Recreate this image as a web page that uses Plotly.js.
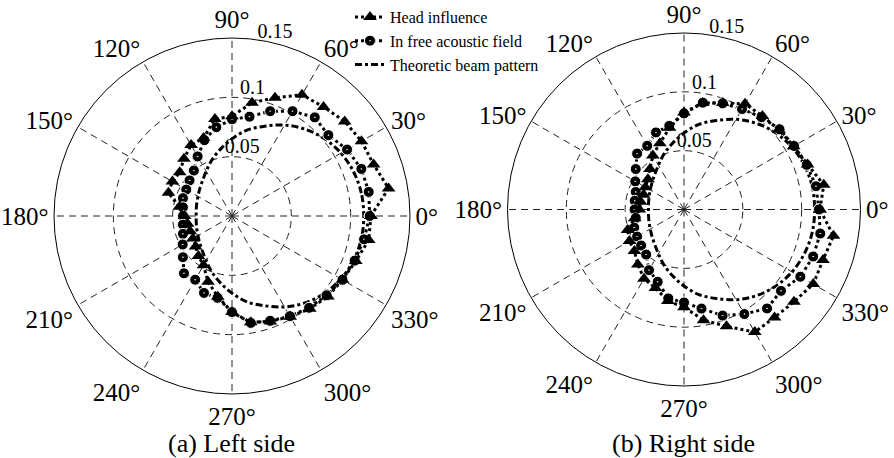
<!DOCTYPE html>
<html>
<head>
<meta charset="utf-8">
<script src="https://cdn.plot.ly/plotly-3.0.1.min.js"></script>
<style>
  html, body { margin: 0; padding: 0; background: #fff; }
  #chart { width: 894px; height: 458px; }
  /* every label of the figure is set in a Times-like serif */
  #chart svg text { font-family: "Liberation Serif", "Times New Roman", serif !important; }
</style>
</head>
<body>
<div id="chart"></div>
<script>
// Measurement angles (degrees)
const angleDeg = [0, 10, 20, 30, 40, 50, 60, 70, 80, 90, 100, 110, 120, 130, 140, 150, 160, 170,
                  180, 190, 200, 210, 220, 230, 240, 250, 260, 270, 280, 290, 300, 310, 320, 330, 340, 350];

// Left side: with head influence / in free acoustic field
const leftHead = [0.117, 0.134, 0.127, 0.126, 0.124, 0.120, 0.118, 0.106, 0.097, 0.084, 0.083, 0.070,
                  0.069, 0.063, 0.0575, 0.058, 0.057, 0.045, 0.040, 0.038, 0.0375, 0.038, 0.040, 0.044,
                  0.048, 0.059, 0.069, 0.081, 0.091, 0.0945, 0.098, 0.102, 0.1055, 0.1075, 0.111, 0.117];
const leftFree = [0.116, 0.117, 0.116, 0.112, 0.106, 0.1085, 0.102, 0.094, 0.085, 0.0815, 0.076, 0.068,
                  0.058, 0.050, 0.0467, 0.0445, 0.044, 0.042, 0.0413, 0.042, 0.044, 0.048, 0.054, 0.063,
                  0.062, 0.069, 0.070, 0.081, 0.0915, 0.094, 0.0975, 0.101, 0.104, 0.1075, 0.110, 0.113];

// Right side
const rightHead = [0.1155, 0.1206, 0.1118, 0.1076, 0.1054, 0.1037, 0.1037, 0.0963, 0.0918, 0.0824, 0.0705, 0.060,
                   0.053, 0.045, 0.040, 0.038, 0.0365, 0.0374, 0.038, 0.0425, 0.051, 0.0535, 0.055, 0.061,
                   0.068, 0.071, 0.079, 0.083, 0.0955, 0.1057, 0.1203, 0.1197, 0.122, 0.1268, 0.1257, 0.129];
const rightFree = [0.1147, 0.1139, 0.111, 0.108, 0.106, 0.1024, 0.0986, 0.096, 0.0922, 0.0816, 0.0722, 0.0697,
                   0.0625, 0.062, 0.0535, 0.0478, 0.0436, 0.0425, 0.042, 0.0416, 0.045, 0.046, 0.0476, 0.050,
                   0.0595, 0.0654, 0.0767, 0.079, 0.0855, 0.0959, 0.1026, 0.1098, 0.1076, 0.1142, 0.1168, 0.1176];

// Theoretic beam pattern (same for both sides)
const theory = [0.111, 0.1107, 0.109, 0.106, 0.1015, 0.0956, 0.0885, 0.0805, 0.0735, 0.065, 0.057, 0.050,
                0.0435, 0.0387, 0.0355, 0.0331, 0.0316, 0.0306, 0.0302, 0.0306, 0.0316, 0.0331, 0.0355, 0.0387,
                0.0435, 0.050, 0.057, 0.065, 0.0735, 0.0805, 0.0885, 0.0956, 0.1015, 0.106, 0.109, 0.1107];

// Axis ticks and labels
const radialTicks = [0.05, 0.1, 0.15];
const radialTickText = ['0.05', '0.1', '0.15'];
const angleTicks = [0, 30, 60, 90, 120, 150, 180, 210, 240, 270, 300, 330];
const angleTickText = ['0°', '30°', '60°', '90°', '120°', '150°', '180°', '210°', '240°', '270°', '300°', '330°'];
const seriesNames = ['Head influence', 'In free acoustic field', 'Theoretic beam pattern'];
const panelTitles = ['(a) Left side', '(b) Right side'];

const SERIF = 'Liberation Serif';
const R_MAX = 0.15;
// direction along which each radius label sits (outermost one leans clear of the 90° label)
const LABEL_THETA = [80, 80, 76];

// close a polar curve by repeating its first point
const closed = arr => arr.concat([arr[0]]);
const thetaClosed = closed(angleDeg);

function panelTraces(head, free, subplot, showLegend) {
  return [
    {
      type: 'scatterpolar', subplot: subplot, name: seriesNames[2], showlegend: showLegend,
      r: closed(theory), theta: thetaClosed, mode: 'lines',
      line: { color: '#000', width: 3, dash: '7px,3px,3px,3px', shape: 'spline' },
      legendrank: 3
    },
    {
      type: 'scatterpolar', subplot: subplot, name: seriesNames[1], showlegend: showLegend,
      r: closed(free), theta: thetaClosed, mode: 'lines+markers',
      line: { color: '#000', width: 3, dash: 'dot' },
      marker: { symbol: 'circle-dot', size: 11, color: '#000', line: { color: '#fff', width: 1 } },
      legendrank: 2
    },
    {
      type: 'scatterpolar', subplot: subplot, name: seriesNames[0], showlegend: showLegend,
      r: closed(head), theta: thetaClosed, mode: 'lines+markers',
      line: { color: '#000', width: 3, dash: 'dot' },
      marker: { symbol: 'triangle-up', size: 12, color: '#000' },
      legendrank: 1
    },
    // radius labels written next to each dashed ring
    {
      type: 'scatterpolar', subplot: subplot, showlegend: false, hoverinfo: 'skip',
      r: radialTicks, theta: LABEL_THETA,
      mode: 'text', text: radialTickText, textposition: 'top center', cliponaxis: false,
      textfont: { family: SERIF, size: 20, color: '#000' }
    }
  ];
}

function polarLayout(xd, yd) {
  return {
    domain: { x: xd, y: yd },
    bgcolor: '#fff',
    radialaxis: {
      range: [0, R_MAX],
      tickvals: radialTicks,
      showticklabels: false,
      showline: false,
      ticks: '',
      gridcolor: '#222',
      gridwidth: 1,
      griddash: '7px,5px'
    },
    angularaxis: {
      direction: 'counterclockwise',
      rotation: 0,
      tickvals: angleTicks,
      ticktext: angleTickText,
      ticks: '',
      showline: true,
      linecolor: '#000',
      linewidth: 1,
      gridcolor: '#222',
      gridwidth: 1,
      griddash: '7px,5px',
      tickfont: { family: SERIF, size: 25, color: '#000' }
    }
  };
}

const W = 894, H = 458;
const data = panelTraces(leftHead, leftFree, 'polar', true)
  .concat(panelTraces(rightHead, rightFree, 'polar2', false));

const layout = {
  width: W, height: H,
  margin: { l: 0, r: 0, t: 0, b: 0 },
  paper_bgcolor: '#fff',
  font: { family: SERIF, color: '#000' },
  showlegend: true,
  legend: {
    x: 350 / W, y: 1, xanchor: 'left', yanchor: 'top',
    bgcolor: 'rgba(0,0,0,0)',
    font: { family: SERIF, size: 16, color: '#000' },
    traceorder: 'normal'
  },
  polar: polarLayout([54 / W, 410 / W], [(H - 394) / H, (H - 38) / H]),
  polar2: polarLayout([507.5 / W, 860.5 / W], [(H - 386) / H, (H - 33) / H]),
  annotations: [
    { text: panelTitles[0], x: 232 / W, y: (H - 443.5) / H, xref: 'paper', yref: 'paper',
      showarrow: false, xanchor: 'center', yanchor: 'middle', font: { family: SERIF, size: 26, color: '#000' } },
    { text: panelTitles[1], x: 683 / W, y: (H - 443.5) / H, xref: 'paper', yref: 'paper',
      showarrow: false, xanchor: 'center', yanchor: 'middle', font: { family: SERIF, size: 26, color: '#000' } }
  ]
};

Plotly.newPlot('chart', data, layout, { staticPlot: true, displayModeBar: false });
</script>
</body>
</html>
